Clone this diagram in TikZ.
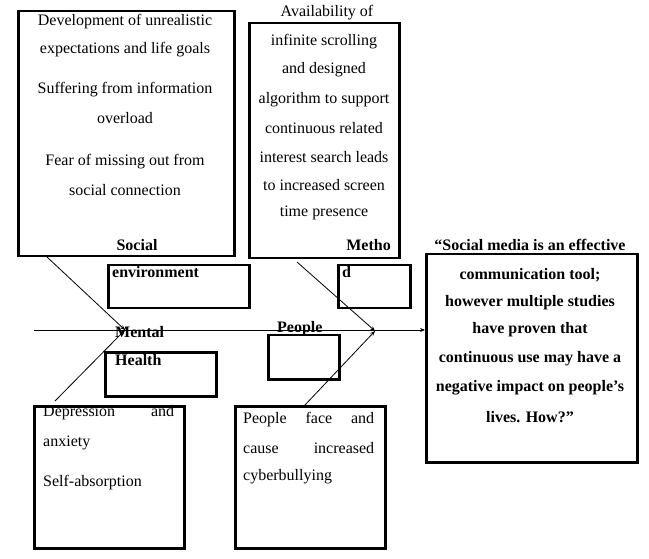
\documentclass[tikz,border=0pt]{standalone}
\usepackage{fontspec}
\setmainfont{Liberation Serif}
\usetikzlibrary{arrows.meta}
\begin{document}
\begin{tikzpicture}[x=1pt,y=-1pt,
  box/.style={draw, line width=2.5pt, inner sep=0pt},
  txt/.style={font=\fontsize{16}{19}\selectfont, inner sep=0pt},
  btxt/.style={font=\fontsize{16}{19}\selectfont\bfseries, inner sep=0pt},
  jtxt/.style={txt, text width=131pt, align=left, anchor=west},
  bone/.style={line width=0.8pt},
  tip/.style={-{Stealth[length=5pt,width=4pt]}}]
\useasboundingbox (0,0) rectangle (649,559);
% boxes
\node[box, anchor=north west, minimum width=216pt, minimum height=245pt] (socbox) at (17,10) {};
\node[box, anchor=north west, minimum width=141pt, minimum height=43pt] (envbox) at (107,264) {};
\node[box, anchor=north west, minimum width=150pt, minimum height=235pt] (metbox) at (248,22) {};
\node[box, anchor=north west, minimum width=72pt, minimum height=43pt] (dbox) at (337,264) {};
\node[box, anchor=north west, minimum width=211pt, minimum height=208pt] (rbox) at (425,253) {};
\node[box, anchor=north west, minimum width=111pt, minimum height=44pt] (hbox) at (104,351) {};
\node[box, anchor=north west, minimum width=71pt, minimum height=44pt] (pbox) at (267,334) {};
\node[box, anchor=north west, minimum width=150pt, minimum height=142pt] (mhbox) at (33,405) {};
\node[box, anchor=north west, minimum width=150pt, minimum height=142pt] (ppbox) at (234,405) {};
% spine and bones
\coordinate (spineS) at (34,330);
\coordinate (mh) at (125,330);
\coordinate (pp) at (375,331);
\coordinate (a1) at (47,257);
\coordinate (a2) at (55,401);
\coordinate (a3) at (297,262);
\coordinate (a4) at (305,405);
\draw[bone,tip] (spineS) -- (spineS -| rbox.west);
\draw[bone,tip] (a1) -- (mh);
\draw[bone,tip] (a2) -- (mh);
\draw[bone,tip] (a3) -- (pp);
\draw[bone,tip] (a4) -- (pp);
% social box text
\node[txt] (s1) at (125,22) {Development of unrealistic};
\node[txt] (s2) at (125,50) {expectations and life goals};
\node[txt] (s3) at (125,90) {Suffering from information};
\node[txt] (s4) at (125,118) {overload};
\node[txt] (s5) at (125,162) {Fear of missing out from};
\node[txt] (s6) at (125,190) {social connection};
\node[btxt] (soc) at (137,245) {Social};
\node[btxt, anchor=west] (env) at (112,272) {environment};
% method text
\node[txt] (m0) at (327,13) {Availability of};
\node[txt] (m1) at (324,42) {infinite scrolling};
\node[txt] (m2) at (324,70) {and designed};
\node[txt] (m3) at (324,100) {algorithm to support};
\node[txt] (m4) at (324,128) {continuous related};
\node[txt] (m5) at (324,157) {interest search leads};
\node[txt] (m6) at (324,185) {to increased screen};
\node[txt] (m7) at (324,213) {time presence};
\node[btxt, anchor=east] (met) at (391,245) {Metho};
\node[btxt, anchor=west] (dd) at (342,272) {d};
% problem text
\node[btxt] (r0) at (530,245) {“Social media is an effective};
\node[btxt] (r1) at (530,275) {communication tool;};
\node[btxt] (r2) at (530,303) {however multiple studies};
\node[btxt] (r3) at (530,330) {have proven that};
\node[btxt] (r4) at (530,359) {continuous use may have a};
\node[btxt] (r5) at (530,388) {negative impact on people’s};
\node[btxt] (r6) at (530,417) {lives. How?”};
% mental health
\node[btxt, anchor=west] (ment) at (115,332) {Mental};
\node[btxt, anchor=west] (heal) at (115,360) {Health};
\node[jtxt] (d1) at (43,413) {Depression\hfill and};
\node[txt, anchor=west] (d2) at (43,443) {anxiety};
\node[txt, anchor=west] (d3) at (43,483) {Self-absorption};
% people
\node[btxt, anchor=west] (peo) at (277,329) {People};
\node[jtxt] (p1) at (243,420) {People\hfill face\hfill and};
\node[jtxt] (p2) at (243,448) {cause\hfill increased};
\node[txt, anchor=west] (p3) at (243,477) {cyberbullying};
\end{tikzpicture}
\end{document}
